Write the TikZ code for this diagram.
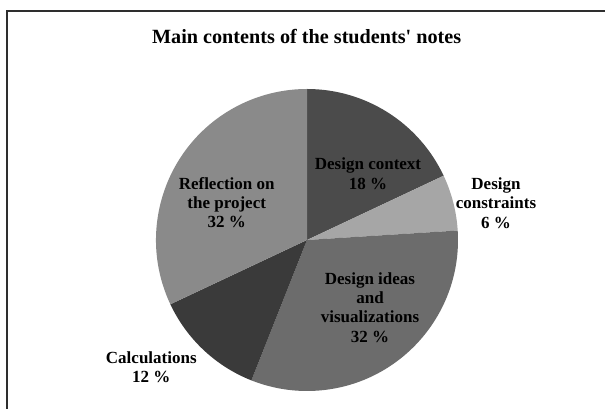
\documentclass[tikz,border=0pt]{standalone}
\usepackage{fontspec}
\setmainfont{Liberation Serif}
\definecolor{cctx}{HTML}{4B4B4B}
\definecolor{ccon}{HTML}{A6A6A6}
\definecolor{cidea}{HTML}{6C6C6C}
\definecolor{ccalc}{HTML}{3A3A3A}
\definecolor{crefl}{HTML}{8A8A8A}
\definecolor{cframe}{HTML}{2E2E2E}
\tikzset{
  lbl/.style={align=center, inner sep=0pt, anchor=base,
    font=\fontsize{17}{19.3}\selectfont\bfseries, text=black},
  ttl/.style={inner sep=0pt, anchor=base,
    font=\fontsize{20.2}{24}\selectfont\bfseries, text=black},
}
\begin{document}
\begin{tikzpicture}[x=1pt,y=1pt]
\useasboundingbox (0,0) rectangle (605,409);
\fill[white] (0,0) rectangle (605,409);
% frame
\draw[cframe, line width=2pt] (7,0) -- (7,398) -- (605,398);
% pie
\coordinate (C) at (307,169);
\def\R{151}
\fill[cctx]  (C) -- ++(90:\R)    arc[start angle=90,    end angle=25.2,   radius=\R] -- cycle;
\fill[ccon]  (C) -- ++(25.2:\R)  arc[start angle=25.2,  end angle=3.6,    radius=\R] -- cycle;
\fill[cidea] (C) -- ++(3.6:\R)   arc[start angle=3.6,   end angle=-111.6, radius=\R] -- cycle;
\fill[ccalc] (C) -- ++(-111.6:\R) arc[start angle=-111.6, end angle=-154.8, radius=\R] -- cycle;
\fill[crefl] (C) -- ++(-154.8:\R) arc[start angle=-154.8, end angle=-270,  radius=\R] -- cycle;
% texts (anchor = baseline of the last line)
\node[ttl] (title) at (306.7,365) {Main contents of the students\textquotesingle\ notes};
\node[lbl] (ctx) at (368,219.7) {Design context\\18 \%};
\node[lbl] (con) at (496,180.7) {Design\\constraints\\6 \%};
\node[lbl] (idea) at (370,66.7) {Design ideas\\and\\visualizations\\32 \%};
\node[lbl] (refl) at (226.7,181) {Reflection on\\the project\\32 \%};
\node[lbl] (calc) at (151.3,26.3) {Calculations\\12 \%};
\end{tikzpicture}
\end{document}
